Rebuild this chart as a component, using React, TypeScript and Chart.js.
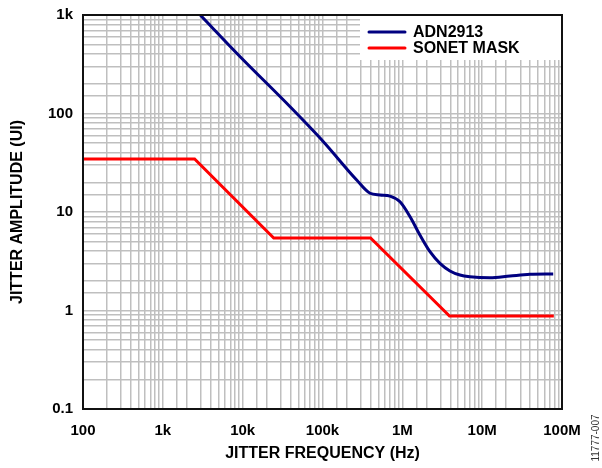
import React, { useEffect, useRef } from "react";
import { Chart, registerables } from "chart.js";

Chart.register(...registerables);

// ADN2913 jitter tolerance (Hz, UI)
const adnFreq = [2940, 9300, 39300, 102600, 268000, 394000, 526000, 702000, 935000, 1.25e6, 1.66e6, 2.22e6, 2.96e6, 3.95e6, 5.27e6, 7.03e6, 12.5e6, 22.3e6, 39.6e6, 77.6e6];
const adnAmp = [1000, 377, 117, 51.7, 21.1, 15.5, 14.9, 14.5, 12.7, 8.95, 5.84, 3.95, 3.01, 2.52, 2.29, 2.2, 2.15, 2.24, 2.33, 2.35];

// SONET mask (Hz, UI)
const sonetFreq = [100, 2500, 24500, 400000, 3.9e6, 79e6];
const sonetAmp = [34.5, 34.5, 5.45, 5.45, 0.88, 0.88];

const seriesNames = ["ADN2913", "SONET MASK"];
const seriesColors = ["#000080", "#ff0000"];

const xTickValues = [1e2, 1e3, 1e4, 1e5, 1e6, 1e7, 1e8];
const xTickLabels = ["100", "1k", "10k", "100k", "1M", "10M", "100M"];
const yTickValues = [0.1, 1, 10, 100, 1000];
const yTickLabels = ["0.1", "1", "10", "100", "1k"];

const xTitle = "JITTER FREQUENCY (Hz)";
const yTitle = "JITTER AMPLITUDE (UI)";
const figureId = "11777-007";

const FONT = '"Liberation Sans", Arial, Helvetica, sans-serif';

function labelFor(v: number, values: number[], labels: string[]): string {
  for (let i = 0; i < values.length; i++) {
    if (Math.abs(Math.log10(v) - Math.log10(values[i])) < 1e-6) return labels[i];
  }
  return "";
}

const legendPlugin = {
  id: "boxLegend",
  beforeDatasetsDraw(chart: any) {
    const { ctx, chartArea } = chart;
    const x0 = 360;
    const y0 = chartArea.top;
    const w = chartArea.right - x0;
    const h = 45;
    ctx.save();
    ctx.fillStyle = "#ffffff";
    ctx.fillRect(x0, y0, w, h);
    ctx.font = `bold 16px ${FONT}`;
    ctx.textBaseline = "middle";
    ctx.textAlign = "left";
    seriesNames.forEach((name, i) => {
      const y = y0 + 17 + i * 16;
      ctx.strokeStyle = seriesColors[i];
      ctx.lineWidth = 3;
      ctx.lineCap = "round";
      ctx.beginPath();
      ctx.moveTo(369, y);
      ctx.lineTo(405, y);
      ctx.stroke();
      ctx.fillStyle = "#000";
      ctx.fillText(name, 413, y + 1);
    });
    ctx.restore();
  },
  afterDraw(chart: any) {
    const { ctx, chartArea } = chart;
    ctx.save();
    ctx.strokeStyle = "#111";
    ctx.lineWidth = 2;
    ctx.strokeRect(chartArea.left, chartArea.top, chartArea.right - chartArea.left, chartArea.bottom - chartArea.top);
    ctx.translate(596, 438);
    ctx.rotate(-Math.PI / 2);
    ctx.font = `10px ${FONT}`;
    ctx.fillStyle = "#333";
    ctx.textAlign = "center";
    ctx.textBaseline = "middle";
    ctx.fillText(figureId, 0, 0);
    ctx.restore();
  },
};

export default function App() {
  const ref = useRef<HTMLCanvasElement>(null);
  useEffect(() => {
    if (!ref.current) return;
    const gridColor = "#bfbfbf";
    const chart = new Chart(ref.current, {
      type: "line",
      data: {
        datasets: [
          {
            label: seriesNames[0],
            data: adnFreq.map((f, i) => ({ x: f, y: adnAmp[i] })),
            borderColor: seriesColors[0],
            borderWidth: 3,
            pointRadius: 0,
            cubicInterpolationMode: "monotone",
            fill: false,
          },
          {
            label: seriesNames[1],
            data: sonetFreq.map((f, i) => ({ x: f, y: sonetAmp[i] })),
            borderColor: seriesColors[1],
            borderWidth: 3,
            pointRadius: 0,
            tension: 0,
            fill: false,
          },
        ],
      },
      options: {
        animation: false,
        responsive: false,
        devicePixelRatio: window.devicePixelRatio || 1,
        layout: { padding: { left: 0, right: 40, top: 15, bottom: 0 } },
        plugins: { legend: { display: false }, tooltip: { enabled: false } },
        scales: {
          x: {
            type: "logarithmic",
            min: 100,
            max: 1e8,
            afterFit: (s: any) => {
              s.height = 59;
              s.paddingLeft = 0;
              s.paddingRight = 0;
            },
            grid: { color: gridColor, lineWidth: 1.5, drawTicks: false },
            border: { display: true, color: "#111", width: 2 },
            ticks: {
              autoSkip: false,
              maxRotation: 0,
              padding: 13,
              color: "#000",
              font: { family: FONT, size: 15, weight: "bold" },
              callback: (v: any) => labelFor(Number(v), xTickValues, xTickLabels),
            },
            title: {
              display: true,
              text: xTitle,
              color: "#000",
              font: { family: FONT, size: 16, weight: "bold" },
              padding: { top: 0, bottom: 5 },
            },
          },
          y: {
            type: "logarithmic",
            min: 0.1,
            max: 1000,
            afterFit: (s: any) => {
              s.width = 83;
              s.paddingTop = 0;
              s.paddingBottom = 0;
            },
            grid: { color: gridColor, lineWidth: 1.5, drawTicks: false },
            border: { display: true, color: "#111", width: 2 },
            ticks: {
              autoSkip: false,
              padding: 10,
              color: "#000",
              font: { family: FONT, size: 15, weight: "bold" },
              callback: (v: any) => labelFor(Number(v), yTickValues, yTickLabels),
            },
            title: {
              display: true,
              text: yTitle,
              color: "#000",
              font: { family: FONT, size: 16, weight: "bold" },
              padding: { top: 8, bottom: 0 },
            },
          },
        },
      } as any,
      plugins: [legendPlugin],
    });
    return () => chart.destroy();
  }, []);
  return (
    <div style={{ position: "absolute", left: 0, top: 0, width: 602, height: 468, background: "#fff" }}>
      <canvas ref={ref} width={602} height={468} style={{ width: 602, height: 468, display: "block" }} />
    </div>
  );
}
